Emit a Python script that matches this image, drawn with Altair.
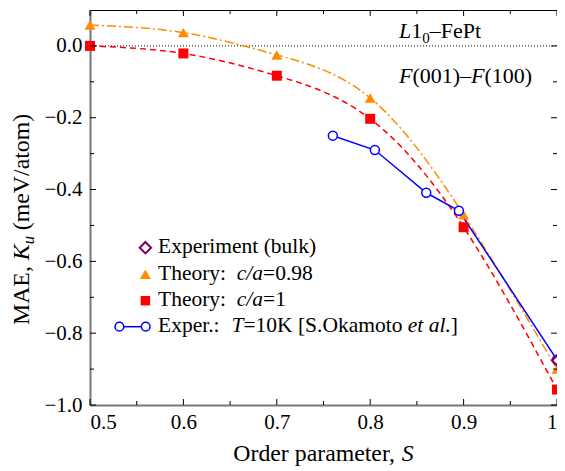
import altair as alt
import pandas as pd

# ---------------- data ----------------
theory098_s = [0.5, 0.6, 0.7, 0.8, 0.9, 1.0]
theory098_k = [0.058, 0.037, -0.025, -0.145, -0.470, -0.900]
theory1_s = [0.5, 0.6, 0.7, 0.8, 0.9, 1.0]
theory1_k = [0.000, -0.021, -0.083, -0.203, -0.505, -0.957]
exper_s = [0.760, 0.805, 0.860, 0.895, 1.000]
exper_k = [-0.250, -0.290, -0.409, -0.459, -0.874]
bulk_s = [1.0]
bulk_k = [-0.876]
x_major = [0.5, 0.6, 0.7, 0.8, 0.9, 1.0]
x_minor = [0.55, 0.65, 0.75, 0.85, 0.95]
y_major = [-1.0, -0.8, -0.6, -0.4, -0.2, 0.0]
y_minor = [-0.9, -0.7, -0.5, -0.3, -0.1]

FONT = "Liberation Serif, Times New Roman, Times, DejaVu Serif, serif"
W, H = 467, 395
ORANGE = "#ff8c00"
RED = "#ff0000"
BLUE = "#0000ff"
PURPLE = "#800060"

WN = {" ": 250, "(": 333, ")": 333, ",": 250, ".": 250, "/": 278, ":": 278, "=": 564,
      "[": 333, "]": 333, "–": 500, "A": 722, "E": 611, "F": 556, "K": 722, "M": 889,
      "O": 722, "P": 556, "S": 556, "T": 611, "V": 722, "a": 444, "b": 500, "d": 500,
      "e": 444, "h": 500, "i": 278, "k": 500, "l": 278, "m": 778, "n": 500, "o": 500,
      "p": 500, "r": 333, "t": 278, "u": 500, "x": 500, "y": 500}
WI = {" ": 250, ".": 250, "/": 278, "K": 667, "S": 500, "T": 556, "L": 556, "F": 611,
      "c": 444, "a": 500, "e": 444, "t": 278, "l": 278, "u": 500}


def tw(s, size, italic):
    tab = WI if italic else WN
    return sum((500 if ch.isdigit() else tab.get(ch, 500)) for ch in s) * size / 1000.0


one = pd.DataFrame({"a": [0]})


def run(pieces, x0, y0, angle=0):
    layers = []
    off = 0.0
    for txt, italic, size, dy in pieces:
        lead = len(txt) - len(txt.lstrip(" "))
        off += tw(" " * lead, size, italic)
        body = txt.lstrip(" ")
        kw = dict(text=body, font=FONT, fontSize=size,
                  fontStyle="italic" if italic else "normal",
                  align="left", baseline="alphabetic", color="black")
        if off:
            kw["dx"] = off
        if dy:
            kw["dy"] = dy
        if angle:
            kw["angle"] = angle
        layers.append(alt.Chart(one).mark_text(**kw).encode(x=alt.value(x0), y=alt.value(y0)))
        off += tw(body, size, italic)
    return layers


xs = alt.Scale(domain=[0.5, 1.0], nice=False, zero=False)
ys = alt.Scale(domain=[-1.0, 0.1], nice=False, zero=False)
xaxis = alt.Axis(values=x_major, title=None, ticks=False, grid=False, labelFont=FONT,
                 labelFontSize=21, labelColor="black", labelPadding=6,
                 domainColor="#777777", domainWidth=2,
                 labelExpr="datum.value == 1 ? '1' : format(datum.value, '.1f')")
yaxis = alt.Axis(values=y_major, title=None, ticks=False, grid=False, labelFont=FONT,
                 labelFontSize=21, labelColor="black", labelPadding=8, format=".1f",
                 domainColor="#777777", domainWidth=2)
X = alt.X("x:Q", scale=xs, axis=xaxis)
Y = alt.Y("y:Q", scale=ys, axis=yaxis)

d098 = pd.DataFrame({"x": theory098_s, "y": theory098_k})
d1 = pd.DataFrame({"x": theory1_s, "y": theory1_k})
dex = pd.DataFrame({"x": exper_s, "y": exper_k})
dbulk = pd.DataFrame({"x": bulk_s, "y": bulk_k})
dzero = pd.DataFrame({"x": [0.5], "x2": [1.0], "y": [0.0]})

zero = alt.Chart(dzero).mark_rule(color="black", strokeWidth=1, strokeDash=[1, 2]).encode(
    x=X, x2="x2:Q", y=Y)
orange_curve = alt.Chart(d098).mark_line(color=ORANGE, strokeWidth=1.5, strokeDash=[9, 3, 2, 3],
                                         interpolate="natural").encode(x=X, y=Y)
red_curve = alt.Chart(d1).mark_line(color=RED, strokeWidth=1.5, strokeDash=[6, 4],
                                    interpolate="natural").encode(x=X, y=Y)
blue_line = alt.Chart(dex).mark_line(color=BLUE, strokeWidth=1.5, clip=True).encode(x=X, y=Y)


def pts(df, **kw):
    # points inside are drawn whole; those on the right frame are cut by it
    inner = alt.Chart(df).transform_filter("datum.x < 1").mark_point(opacity=1, **kw).encode(x=X, y=Y)
    outer = alt.Chart(df).transform_filter("datum.x >= 1").mark_point(opacity=1, clip=True, **kw).encode(x=X, y=Y)
    return [inner, outer]


tri = pts(d098, shape="triangle-up", filled=True, color=ORANGE, size=120)
sq = pts(d1, shape="square", filled=True, color=RED, size=100)
circ = pts(dex, shape="circle", filled=True, fill="white", stroke=BLUE, strokeWidth=1.5, size=80)
diam = pts(dbulk, shape="diamond", filled=False, color=PURPLE, strokeWidth=2, size=100)


def xticks(vals, length):
    d = pd.DataFrame({"x": vals})
    b = alt.Chart(d).mark_rule(color="black", strokeWidth=1).encode(
        x=X, y=alt.value(H), y2=alt.value(H - length))
    t = alt.Chart(d).mark_rule(color="black", strokeWidth=1).encode(
        x=X, y=alt.value(0), y2=alt.value(length))
    return [b, t]


def yticks(vals, length):
    d = pd.DataFrame({"y": vals})
    l = alt.Chart(d).mark_rule(color="black", strokeWidth=1).encode(
        y=Y, x=alt.value(0), x2=alt.value(length))
    r = alt.Chart(d).mark_rule(color="black", strokeWidth=1).encode(
        y=Y, x=alt.value(W), x2=alt.value(W - length))
    return [l, r]


ticks = xticks(x_major, 6) + xticks(x_minor, 4) + yticks(y_major, 6) + yticks(y_minor, 4)

# legend
LX, TX = 55.4, 68
leg = [
    alt.Chart(one).mark_point(shape="diamond", filled=False, color=PURPLE, strokeWidth=2,
                              size=130, opacity=1).encode(x=alt.value(LX), y=alt.value(237.7)),
    alt.Chart(one).mark_point(shape="triangle-up", filled=True, color=ORANGE, size=120,
                              opacity=1).encode(x=alt.value(LX), y=alt.value(264.3)),
    alt.Chart(one).mark_point(shape="square", filled=True, color=RED, size=90,
                              opacity=1).encode(x=alt.value(LX), y=alt.value(290.7)),
    alt.Chart(one).mark_rule(color=BLUE, strokeWidth=1.5).encode(
        x=alt.value(29.4), x2=alt.value(55.7), y=alt.value(316.7)),
    alt.Chart(pd.DataFrame({"p": [29.4, 55.7]})).mark_point(
        shape="circle", filled=True, fill="white", stroke=BLUE, strokeWidth=1.5, size=75,
        opacity=1).encode(x=alt.X("p:Q", scale=None, axis=None), y=alt.value(316.7)),
]
LS = 21.5
leg += run([("Experiment (bulk)", False, LS, 0)], TX, 243.3)
leg += run([("Theory:  ", False, LS, 0), ("c/a", True, LS, 0), ("=0.98", False, LS, 0)], TX, 269.6)
leg += run([("Theory:  ", False, LS, 0), ("c/a", True, LS, 0), ("=1", False, LS, 0)], TX, 296.0)
leg += run([("Exper.:  ", False, LS, 0), ("T", True, LS, 0), ("=10K [S.Okamoto ", False, LS, 0),
            ("et al.", True, LS, 0), ("]", False, LS, 0)], TX, 322.3)

# annotations
ann = run([("L", True, 22, 0), ("1", False, 22, 0), ("0", False, 15, 5), ("–FePt", False, 22, 0)],
          309, 28.3)
ann += run([("F", True, 22, 0), ("(001)–", False, 22, 0), ("F", True, 22, 0), ("(100)", False, 22, 0)],
           309, 73.3)

# axis titles
TS = 23.8
xt_pieces = [("Order parameter, ", False, TS, 0), ("S", True, TS, 0)]
xt_w = sum(tw(t, s, i) for t, i, s, _ in xt_pieces)
titles = run(xt_pieces, W / 2 - xt_w / 2, 450.5)
titles += run([("MAE, ", False, TS, 0), ("K", True, TS, 0), ("u", True, 16.5, 5),
               (" (meV/atom)", False, TS, 0)], -61.5, 315, angle=270)

chart = alt.layer(
    zero, orange_curve, red_curve, blue_line, *tri, *sq, *circ, *diam,
    *ticks, *leg, *ann, *titles
).properties(
    width=W, height=H,
    autosize=alt.AutoSizeParams(type="none"),
    padding={"left": 82, "top": 2, "right": 0, "bottom": 66},
).configure_view(stroke="black", strokeWidth=1)

chart.save("out.html", embed_options={"renderer": "svg", "actions": False})
